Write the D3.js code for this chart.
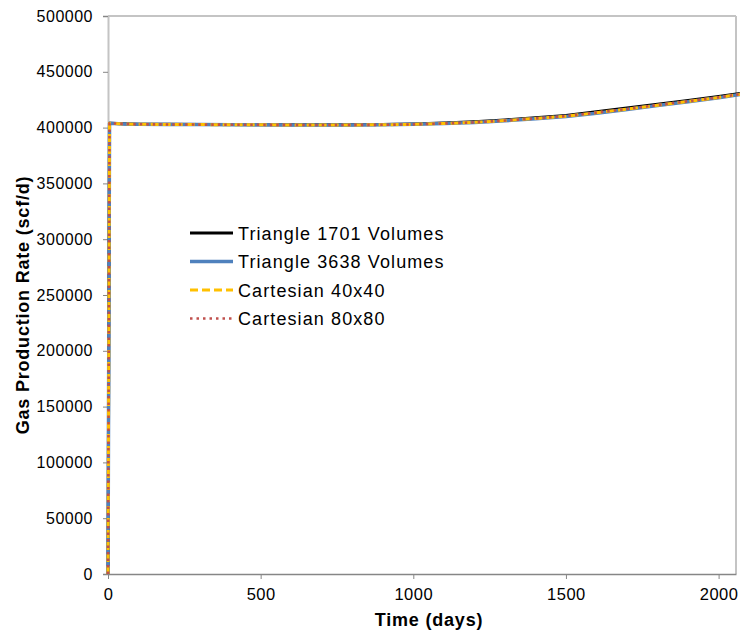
<!DOCTYPE html>
<html>
<head>
<meta charset="utf-8">
<script src="https://cdn.jsdelivr.net/npm/d3@7"></script>
<style>
body{margin:0;background:#fff}
svg{display:block;font-family:"Liberation Sans",Arial,sans-serif}
</style>
</head>
<body>
<script>
// values
const times=[0,5,50,100,200,300,400,500,600,700,800,900,1000,1100,1200,1300,1400,1500,1600,1700,1800,1900,2000,2070]
const tri1701=[0,403900,403400,403100,402900,402800,402700,402600,402500,402500,402500,402700,403200,404100,405300,406900,408800,410900,414100,417500,421000,424400,427800,430500]
const tri3638=[0,403800,403300,403000,402800,402700,402600,402500,402400,402300,402300,402500,402900,403600,404500,406100,407900,409900,412900,416300,419800,423200,426700,429700]
const cart40=[0,404000,403300,403000,402800,402700,402600,402500,402400,402400,402400,402500,402900,403700,404700,406300,408200,410200,413300,416600,420100,423500,427000,429900]
const cart80=[0,403900,403300,403000,402800,402700,402600,402500,402400,402300,402400,402500,402900,403700,404700,406300,408200,410300,413400,416700,420200,423600,427100,430000]
const seriesNames=["Triangle 1701 Volumes","Triangle 3638 Volumes","Cartesian 40x40","Cartesian 80x80"]
const xTicks=[0,500,1000,1500,2000]
const yTicks=[0,50000,100000,150000,200000,250000,300000,350000,400000,450000,500000]

const W=740,H=637
const m={left:108,top:16,right:740-736,bottom:637-574}

const svg=d3.select("body").append("svg")
	.attr("width",W)
	.attr("height",H)

const x=d3.scaleLinear().domain([0,2057]).range([m.left,W-m.right])
const y=d3.scaleLinear().domain([0,500000]).range([H-m.bottom,m.top])

// plot border top/right
svg.append("line")
	.attr("x1",x(0)).attr("x2",x(2057))
	.attr("y1",y(500000)).attr("y2",y(500000))
	.attr("stroke","#c4c4c4").attr("stroke-width",2)
svg.append("line")
	.attr("x1",x(2057)).attr("x2",x(2057))
	.attr("y1",y(500000)).attr("y2",y(0))
	.attr("stroke","#c4c4c4").attr("stroke-width",2)

// y axis
const yAxis=svg.append("g")
	.attr("transform","translate("+m.left+",0)")
	.call(d3.axisLeft(y).tickValues(yTicks).tickSize(5).tickPadding(10).tickFormat(d3.format("d")))
yAxis.select(".domain").attr("stroke","#c4c4c4").attr("stroke-width",2)
yAxis.selectAll(".tick line").attr("stroke","#868686")
yAxis.selectAll("text").attr("font-size",16).attr("fill","#000").attr("letter-spacing",0.5)
	.attr("font-family","Liberation Sans,Arial,sans-serif")

// x axis
const xAxis=svg.append("g")
	.attr("transform","translate(0,"+(H-m.bottom)+")")
	.call(d3.axisBottom(x).tickValues(xTicks).tickSize(5).tickPadding(9).tickSizeOuter(0).tickFormat(d3.format("d")))
xAxis.select(".domain").attr("stroke","#868686").attr("stroke-width",1.3)
xAxis.selectAll(".tick line").attr("stroke","#868686")
xAxis.selectAll("text").attr("font-size",16.5).attr("fill","#000").attr("letter-spacing",0.5)
	.attr("font-family","Liberation Sans,Arial,sans-serif")

// axis titles
svg.append("text")
	.attr("x",429).attr("y",626)
	.attr("text-anchor","middle")
	.attr("font-size",18).attr("font-weight","bold").attr("letter-spacing",0.8)
	.text("Time (days)")
svg.append("text")
	.attr("transform","translate(29,305) rotate(-90)")
	.attr("text-anchor","middle")
	.attr("font-size",18).attr("font-weight","bold").attr("letter-spacing",0.8)
	.text("Gas Production Rate (scf/d)")

const styles=[
	{color:"#000000",width:3,dash:null},
	{color:"#4f81bd",width:3.5,dash:null},
	{color:"#ffc000",width:3,dash:"8,4"},
	{color:"#c0504d",width:2.6,dash:"2.5,4"}
]
const allSeries=[tri1701,tri3638,cart40,cart80]

const line=d3.line()
	.x((d,i)=>x(times[i]))
	.y(d=>y(d))

allSeries.forEach((s,k)=>{
	svg.append("path")
		.datum(s)
		.attr("d",line)
		.attr("fill","none")
		.attr("stroke",styles[k].color)
		.attr("stroke-width",styles[k].width)
		.attr("stroke-dasharray",styles[k].dash)
		.attr("stroke-linejoin","round")
})

// legend
const lg=svg.append("g").attr("transform","translate(190,233)")
seriesNames.forEach((n,k)=>{
	const row=lg.append("g").attr("transform","translate(0,"+(k*28.5)+")")
	row.append("line")
		.attr("x1",0).attr("x2",43).attr("y1",0).attr("y2",0)
		.attr("stroke",styles[k].color)
		.attr("stroke-width",styles[k].width)
		.attr("stroke-dasharray",styles[k].dash)
	row.append("text")
		.attr("x",48).attr("y",6.5)
		.attr("font-size",18).attr("letter-spacing",1.1)
		.text(n)
})
</script>
</body>
</html>
